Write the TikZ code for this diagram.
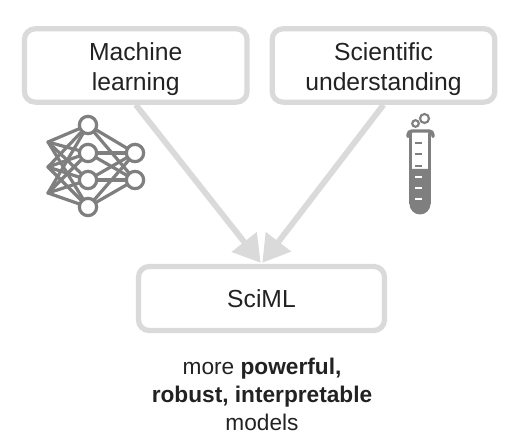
\documentclass[tikz,border=0pt]{standalone}
\usepackage{fontspec}
\setmainfont{Liberation Sans}
\usetikzlibrary{arrows.meta}
\definecolor{boxgray}{HTML}{DADADA}
\definecolor{icongray}{HTML}{7F7F7F}
\definecolor{inkgray}{HTML}{222222}
\tikzset{
    textbox/.style={draw=boxgray, line width=3.9pt, rounded corners=8pt, fill=white, align=center, text=inkgray, font=\fontsize{18.5}{22.5}\selectfont},
    feed/.style={draw=boxgray, line width=4.4pt, -{Stealth[length=20pt, width=23pt, inset=0pt]}, shorten >=1pt},
    neuron/.style={circle, draw=icongray, fill=white, line width=2.4pt, minimum size=13pt, inner sep=0pt},
    synapse/.style={draw=icongray, line width=2.4pt, line cap=round},
}

\begin{document}
\begin{tikzpicture}[x=0.75pt, y=-0.75pt]
    \useasboundingbox (0,0) rectangle (518,438);
    \node[textbox, minimum width=167pt, minimum height=55pt] at (135.75,65.5) (ml) {\rule{0pt}{19pt}Machine\\learning};
    \node[textbox, minimum width=167pt, minimum height=55pt] at (383.5,65.5) (sci) {\rule{0pt}{19pt}Scientific\\understanding};
    \node[textbox, minimum width=184.5pt, minimum height=48pt] at (261.5,298.5) (sciml) {SciML};
    \draw[feed] (ml.south) -- (sciml.north);
    \draw[feed] (sci.south) -- (sciml.north);
    \node[align=center, text=inkgray, font=\fontsize{17}{21}\selectfont] at (262,394) (goal) {more \textbf{powerful,}\\\textbf{robust, interpretable}\\models};
    % network icon
    \coordinate (in1) at (48,142);
    \coordinate (in2) at (48,167);
    \coordinate (in3) at (48,193);
    \foreach \n/\y in {1/125,2/153,3/180,4/207}
        \coordinate (hid\n) at (88,\y);
    \foreach \n/\y in {1/153,2/180}
        \coordinate (out\n) at (135,\y);
    \foreach \a in {1,2,3}
        \foreach \b in {1,2,3,4}
            \draw[synapse] (in\a) -- (hid\b);
    \foreach \a in {1,2,3,4}
        \foreach \b in {1,2}
            \draw[synapse] (hid\a) -- (out\b);
    \foreach \n/\y in {1/125,2/153,3/180,4/207}
        \node[neuron] at (88,\y) (h\n) {};
    \foreach \n/\y in {1/153,2/180}
        \node[neuron] at (135,\y) (o\n) {};
    % test tube icon
    \begin{scope}[icongray]
        \fill (409.5,169) -- (430.5,169) -- (430.5,204) arc[start angle=0, end angle=180, radius=10.5] -- cycle;
        \draw[line width=2.2pt] (410.5,133) -- (410.5,204) arc[start angle=180, end angle=360, radius=9.5] -- (429.5,133);
        \draw[line width=2.6pt, line cap=round, rounded corners=3pt] (408,136.5) -- (408,131) -- (433,131) -- (433,136.5);
        \draw[line width=1.6pt] (415.5,123.5) circle (3.3);
        \draw[line width=1.6pt] (424.5,118.5) circle (4.5);
        \foreach \y in {143,154,166}
            \draw[line width=2pt] (415,\y) -- (422,\y);
        \foreach \y in {177,188,199}
            \draw[white, line width=2pt] (415,\y) -- (422,\y);
    \end{scope}
\end{tikzpicture}
\end{document}
